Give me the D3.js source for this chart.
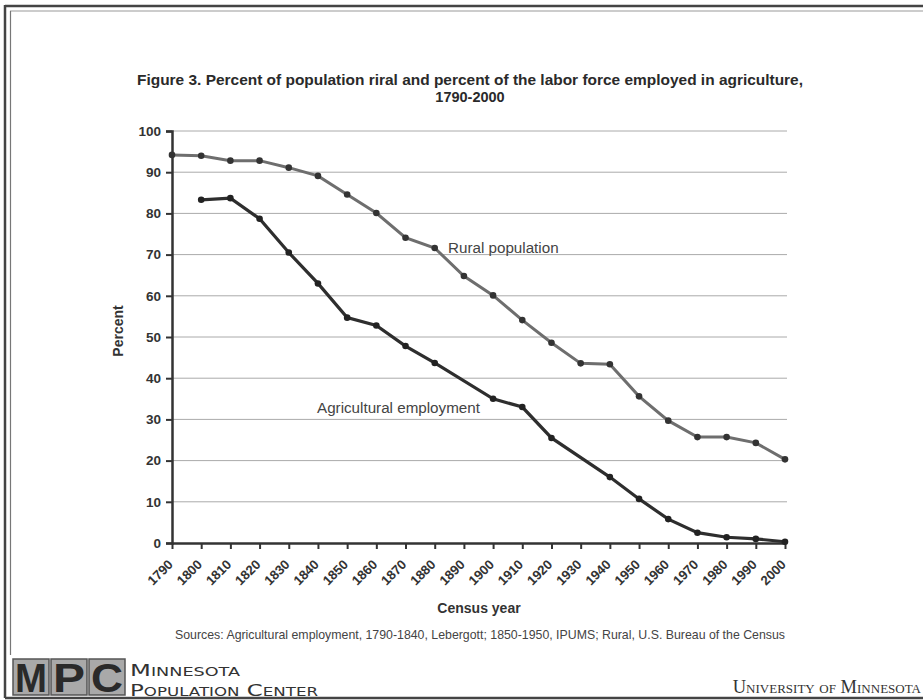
<!DOCTYPE html>
<html><head><meta charset="utf-8">
<script src="https://cdn.jsdelivr.net/npm/d3@7"></script>
<style>
html,body{margin:0;padding:0;background:#fff;}
svg{display:block;}
</style></head>
<body>
<svg id="c" width="923" height="700"></svg>
<script>
const years = [1790,1800,1810,1820,1830,1840,1850,1860,1870,1880,1890,1900,1910,1920,1930,1940,1950,1960,1970,1980,1990,2000];
const rural = [94.2,94.0,92.8,92.8,91.1,89.1,84.6,80.1,74.1,71.6,64.8,60.1,54.1,48.6,43.6,43.4,35.6,29.7,25.7,25.7,24.3,20.3];
const agri  = [null,83.3,83.7,78.7,70.5,63.0,54.7,52.8,47.8,43.7,null,35.0,33.0,25.5,null,16.0,10.7,5.8,2.5,1.4,1.0,0.3];
const yTicks = [0,10,20,30,40,50,60,70,80,90,100];
const titleLines = ["Figure 3. Percent of population riral and percent of the labor force employed in agriculture,","1790-2000"];

const svg = d3.select("#c");
const W = 923, H = 700;
const m = {left:172, right:785, top:131, bottom:543};
const x = d3.scaleLinear().domain([1790,2000]).range([m.left,m.right]);
const y = d3.scaleLinear().domain([0,100]).range([m.bottom,m.top]);
const sans = "Arial,'Liberation Sans',sans-serif";

// frame
svg.append("line").attr("x1",5).attr("x2",W).attr("y1",6).attr("y2",6).attr("stroke","#444").attr("stroke-width",2.5);
svg.append("line").attr("x1",10).attr("x2",W).attr("y1",11).attr("y2",11).attr("stroke","#999").attr("stroke-width",1.2);
svg.append("line").attr("x1",5).attr("x2",5).attr("y1",5).attr("y2",698).attr("stroke","#444").attr("stroke-width",2.5);
svg.append("line").attr("x1",10.5).attr("x2",10.5).attr("y1",11).attr("y2",655).attr("stroke","#777").attr("stroke-width",1.2);
svg.append("line").attr("x1",5).attr("x2",W).attr("y1",698).attr("y2",698).attr("stroke","#444").attr("stroke-width",2.5);

// title
svg.append("g").selectAll("text").data(titleLines).join("text")
  .attr("x",470).attr("y",(d,i)=>85+i*17).attr("text-anchor","middle")
  .attr("font-family",sans).attr("font-weight","bold").attr("font-size",14.5).attr("fill","#2a2a2a")
  .attr("textLength",(d,i)=>i===0?666:null).attr("lengthAdjust","spacingAndGlyphs")
  .text(d=>d);

// grid
svg.append("g").selectAll("line").data(yTicks.filter(d=>d>0)).join("line")
  .attr("x1",m.left).attr("x2",m.right+2).attr("y1",d=>y(d)).attr("y2",d=>y(d))
  .attr("stroke","#aaa").attr("stroke-width",1);

// y axis
const ya = svg.append("g").attr("transform",`translate(${m.left},0)`)
  .call(d3.axisLeft(y).tickValues(yTicks).tickSize(6).tickPadding(5));
ya.select(".domain").attr("stroke","#333").attr("stroke-width",2.5);
ya.selectAll(".tick line").attr("stroke","#333").attr("stroke-width",2);
ya.selectAll("text").attr("font-family",sans).attr("font-weight","bold").attr("font-size",13.5).attr("fill","#333");

// x axis
const xa = svg.append("g").attr("transform",`translate(0,${m.bottom})`)
  .call(d3.axisBottom(x).tickValues(years).tickFormat(d3.format("d")).tickSize(6).tickSizeOuter(0));
xa.select(".domain").attr("stroke","#333").attr("stroke-width",2.5);
xa.selectAll(".tick line").attr("stroke","#333").attr("stroke-width",2);
xa.selectAll("text").attr("font-family",sans).attr("font-weight","bold").attr("font-size",13.2).attr("fill","#333")
  .attr("text-anchor","end").attr("dy","0.35em").attr("y",0).attr("x",0)
  .attr("transform","translate(-2,19) rotate(-45)");

// axis titles
svg.append("text").attr("transform","translate(123,331) rotate(-90)").attr("text-anchor","middle")
  .attr("font-family",sans).attr("font-weight","bold").attr("font-size",14).attr("fill","#333").text("Percent");
svg.append("text").attr("x",479).attr("y",613).attr("text-anchor","middle")
  .attr("font-family",sans).attr("font-weight","bold").attr("font-size",14).attr("fill","#333").text("Census year");
svg.append("text").attr("x",480).attr("y",639).attr("text-anchor","middle")
  .attr("font-family",sans).attr("font-size",12.2).attr("fill","#444")
  .attr("textLength",610).attr("lengthAdjust","spacingAndGlyphs")
  .text("Sources: Agricultural employment, 1790-1840, Lebergott; 1850-1950, IPUMS; Rural, U.S. Bureau of the Census");

// lines
const line = d3.line().defined(d=>d[1]!=null).x(d=>x(d[0])).y(d=>y(d[1]));
const rData = years.map((yr,i)=>[yr,rural[i]]);
const aData = years.map((yr,i)=>[yr,agri[i]]).filter(d=>d[1]!=null);
svg.append("path").datum(rData).attr("d",line).attr("fill","none").attr("stroke","#6e6e6e").attr("stroke-width",3);
svg.append("path").datum(aData).attr("d",line).attr("fill","none").attr("stroke","#2e2e2e").attr("stroke-width",3.2);
svg.append("g").selectAll("circle").data(rData).join("circle")
  .attr("cx",d=>x(d[0])).attr("cy",d=>y(d[1])).attr("r",3.3).attr("fill","#333");
svg.append("g").selectAll("circle").data(aData).join("circle")
  .attr("cx",d=>x(d[0])).attr("cy",d=>y(d[1])).attr("r",3.3).attr("fill","#222");

// annotations
svg.append("text").attr("x",448).attr("y",253).attr("font-family",sans).attr("font-size",15.2).attr("fill","#444").text("Rural population");
svg.append("text").attr("x",317).attr("y",413).attr("font-family",sans).attr("font-size",15.2).attr("fill","#444").text("Agricultural employment");

// logo
const letters = ["M","P","C"];
const lg = svg.append("g");
lg.selectAll("rect").data(letters).join("rect")
  .attr("x",(d,i)=>13+i*38).attr("y",659).attr("width",36).attr("height",36)
  .attr("fill","#a9a9a9").attr("stroke","#555").attr("stroke-width",1.5);
lg.selectAll("text").data(letters).join("text")
  .attr("x",(d,i)=>13+i*38+18).attr("y",692).attr("text-anchor","middle")
  .attr("font-family",sans).attr("font-weight","bold").attr("font-size",40).attr("fill","#2a2a2a")
  .attr("textLength",32).attr("lengthAdjust","spacingAndGlyphs").text(d=>d);
svg.append("text").attr("x",130).attr("y",676).attr("font-family","'DejaVu Sans',sans-serif").attr("font-size",16.5)
  .attr("font-variant","small-caps").attr("fill","#333").attr("textLength",110).attr("lengthAdjust","spacingAndGlyphs").text("Minnesota");
svg.append("text").attr("x",130).attr("y",695.5).attr("font-family","'DejaVu Sans',sans-serif").attr("font-size",16.5)
  .attr("font-variant","small-caps").attr("fill","#333").attr("textLength",188).attr("lengthAdjust","spacingAndGlyphs").text("Population Center");
svg.append("text").attr("x",921).attr("y",693).attr("text-anchor","end").attr("font-family","'Liberation Serif',serif").attr("font-size",18.5)
  .attr("font-variant","small-caps").attr("fill","#333").text("University of Minnesota");
</script>
</body></html>
